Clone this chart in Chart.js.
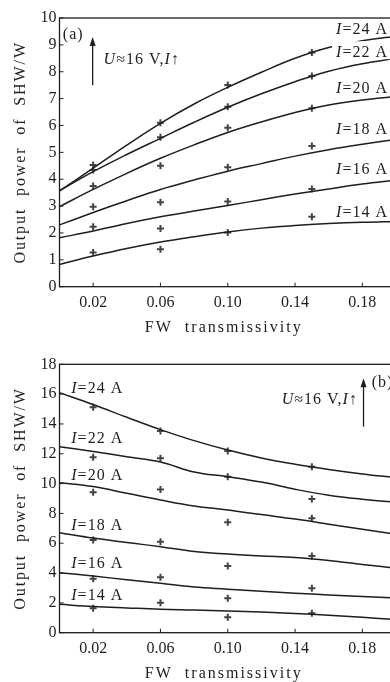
<!DOCTYPE html>
<html lang="en">
<head>
<meta charset="UTF-8">
<title>SHW output power vs FW transmissivity</title>
<script src="https://cdn.jsdelivr.net/npm/chart.js"></script>
<style>
  body { margin: 0; background: #fff; }
  #wrap { width: 390px; height: 682px; overflow: hidden; }
  canvas { display: block; }
</style>
</head>
<body>
<div id="wrap">
  <canvas id="chartA" width="402" height="341"></canvas>
  <canvas id="chartB" width="402" height="341"></canvas>
</div>
<script>
// values
const currents = [24, 22, 20, 18, 16, 14];
const xFit = [0, 0.02, 0.04, 0.06, 0.08, 0.10, 0.12, 0.14, 0.16, 0.18, 0.20];
const xMeas = [0.02, 0.06, 0.10, 0.15];
const xTicks = [0.02, 0.06, 0.10, 0.14, 0.18];
const yTicksA = [0, 1, 2, 3, 4, 5, 6, 7, 8, 9, 10];
const yTicksB = [0, 2, 4, 6, 8, 10, 12, 14, 16, 18];

// (a) fitted curves, one per current
const fitA24 = [3.57, 4.41, 5.27, 6.08, 6.80, 7.42, 7.98, 8.50, 8.90, 9.15, 9.32];
const fitA22 = [3.57, 4.28, 4.92, 5.52, 6.12, 6.68, 7.18, 7.63, 8.02, 8.30, 8.50];
const fitA20 = [2.98, 3.62, 4.22, 4.78, 5.28, 5.74, 6.13, 6.48, 6.76, 6.95, 7.08];
const fitA18 = [2.30, 2.76, 3.20, 3.62, 3.97, 4.30, 4.58, 4.86, 5.10, 5.30, 5.48];
const fitA16 = [1.82, 2.07, 2.35, 2.60, 2.82, 3.02, 3.24, 3.45, 3.64, 3.82, 3.97];
const fitA14 = [0.83, 1.14, 1.42, 1.66, 1.86, 2.04, 2.18, 2.28, 2.35, 2.40, 2.43];
// (a) measured points
const measA24 = [4.53, 6.10, 7.51, 8.72];
const measA22 = [4.34, 5.56, 6.70, 7.84];
const measA20 = [3.75, 4.50, 5.92, 6.64];
const measA18 = [2.98, 3.14, 4.45, 5.24];
const measA16 = [2.23, 2.17, 3.17, 3.64];
const measA14 = [1.27, 1.39, 2.02, 2.60];

// (b) fitted curves
const fitB24 = [16.10, 15.30, 14.45, 13.62, 12.88, 12.25, 11.72, 11.30, 10.95, 10.65, 10.40];
const fitB22 = [12.47, 12.15, 11.80, 11.45, 10.78, 10.46, 10.10, 9.62, 9.22, 8.95, 8.75];
const fitB20 = [10.06, 9.80, 9.35, 8.90, 8.50, 8.23, 7.92, 7.62, 7.28, 6.93, 6.60];
const fitB18 = [6.71, 6.35, 6.05, 5.77, 5.45, 5.28, 5.15, 5.05, 4.85, 4.58, 4.32];
const fitB16 = [4.02, 3.80, 3.55, 3.31, 3.06, 2.92, 2.78, 2.65, 2.53, 2.43, 2.33];
const fitB14 = [1.90, 1.76, 1.66, 1.57, 1.52, 1.46, 1.38, 1.29, 1.17, 1.03, 0.88];
// (b) measured points
const measB24 = [15.12, 13.53, 12.19, 11.13];
const measB22 = [11.76, 11.70, 10.46, 8.97];
const measB20 = [9.42, 9.60, 7.40, 7.67];
const measB18 = [6.22, 6.10, 4.47, 5.14];
const measB16 = [3.62, 3.72, 2.31, 2.98];
const measB14 = [1.64, 2.01, 1.03, 1.30];

const SERIF = '"Liberation Serif", "Times New Roman", serif';
const INK = '#1e1e1e';

function drawRich(ctx, parts, x, y, size, align) {
    let total = 0;
    parts.forEach(p => {
        ctx.font = (p[1] ? 'italic ' : '') + size + 'px ' + SERIF;
        total += ctx.measureText(p[0]).width;
    });
    if (align === 'right') x -= total;
    parts.forEach(p => {
        ctx.font = (p[1] ? 'italic ' : '') + size + 'px ' + SERIF;
        ctx.fillText(p[0], x, y);
        x += ctx.measureText(p[0]).width;
    });
}

const decor = {
    id: 'decor',
    afterDatasetsDraw(chart, args, o) {
        const ctx = chart.ctx, xs = chart.scales.x, ys = chart.scales.y;
        ctx.save();
        ctx.fillStyle = INK;
        ctx.textBaseline = 'middle';
        ctx.letterSpacing = '1px';
        // current labels
        o.labels.forEach((lb, i) => {
            const px = xs.getPixelForValue(lb[0]), py = ys.getPixelForValue(lb[1]);
            const parts = [['I', true], ['=' + currents[i] + ' A', false]];
            if (o.mask) {
                ctx.fillStyle = '#fff';
                ctx.fillRect(px - 4, py - 12, 60, 18);
                ctx.fillStyle = INK;
            }
            drawRich(ctx, parts, px, py, 16, 'left');
        });
        // panel tag
        drawRich(ctx, [[o.tag[0], false]], xs.getPixelForValue(o.tag[1]), ys.getPixelForValue(o.tag[2]), 16, 'left');
        // note
        drawRich(ctx, [['U', true], ['\u224816 V,', false], ['I', true], ['\u2191', false]],
            xs.getPixelForValue(o.note[0]), ys.getPixelForValue(o.note[1]), 16, o.note[2]);
        // arrow
        const ax = xs.getPixelForValue(o.arrow[0]);
        const a0 = ys.getPixelForValue(o.arrow[1]), a1 = ys.getPixelForValue(o.arrow[2]);
        ctx.strokeStyle = INK;
        ctx.lineWidth = 1.3;
        ctx.beginPath();
        ctx.moveTo(ax, a0);
        ctx.lineTo(ax, a1 + 4);
        ctx.stroke();
        ctx.beginPath();
        ctx.moveTo(ax, a1);
        ctx.lineTo(ax - 3, a1 + 9);
        ctx.lineTo(ax + 3, a1 + 9);
        ctx.closePath();
        ctx.fill();
        ctx.restore();
    },
    afterDraw(chart) {
        const ctx = chart.ctx, a = chart.chartArea;
        const xs = chart.scales.x, ys = chart.scales.y;
        ctx.save();
        ctx.strokeStyle = INK;
        ctx.lineWidth = 1.3;
        ctx.strokeRect(a.left, a.top, a.right - a.left, a.bottom - a.top);
        // inward ticks
        ctx.lineWidth = 1;
        ctx.beginPath();
        xTicks.forEach(v => {
            const px = xs.getPixelForValue(v);
            ctx.moveTo(px, a.bottom);
            ctx.lineTo(px, a.bottom - 4);
        });
        ys.ticks.forEach(t => {
            const py = ys.getPixelForValue(t.value);
            ctx.moveTo(a.left, py);
            ctx.lineTo(a.left + 4, py);
        });
        ctx.stroke();
        // axis titles
        ctx.fillStyle = INK;
        ctx.font = '16px ' + SERIF;
        ctx.textAlign = 'center';
        ctx.textBaseline = 'middle';
        ctx.letterSpacing = '2px';
        ctx.fillText('FW  transmissivity', (a.left + a.right) / 2 - 4, a.bottom + 41);
        ctx.translate(21, (a.top + a.bottom) / 2);
        ctx.rotate(-Math.PI / 2);
        ctx.letterSpacing = '1.9px';
        ctx.fillText('Output  power  of  SHW/W', 0, 0);
        ctx.restore();
    }
};

function buildChart(id, fits, meas, yTicks, top, xHeight, deco) {
    const datasets = [];
    fits.forEach((f, i) => {
        datasets.push({
            data: xFit.map((x, j) => ({ x: x, y: f[j] })),
            showLine: true,
            borderColor: INK,
            borderWidth: 1.5,
            pointRadius: 0,
            tension: 0.4
        });
        datasets.push({
            data: xMeas.map((x, j) => ({ x: x, y: meas[i][j] })),
            showLine: false,
            pointStyle: 'cross',
            pointRadius: 3.5,
            borderWidth: 2,
            borderColor: '#444',
            backgroundColor: '#444'
        });
    });
    const tickFont = { family: SERIF, size: 16 };
    return new Chart(document.getElementById(id), {
        type: 'scatter',
        data: { datasets: datasets },
        options: {
            responsive: false,
            animation: false,
            layout: { padding: { top: top, right: 2.5, left: 0, bottom: 0 } },
            plugins: { legend: { display: false }, tooltip: { enabled: false }, decor: deco },
            scales: {
                x: {
                    type: 'linear', min: 0, max: 0.2,
                    afterBuildTicks: s => { s.ticks = xTicks.map(v => ({ value: v })); },
                    afterFit: s => { s.height = xHeight; },
                    ticks: { callback: v => v.toFixed(2), font: tickFont, color: INK, padding: 6, autoSkip: false, maxRotation: 0 },
                    grid: { display: false, drawTicks: false },
                    border: { display: false }
                },
                y: {
                    type: 'linear', min: yTicks[0], max: yTicks[yTicks.length - 1],
                    afterBuildTicks: s => { s.ticks = yTicks.map(v => ({ value: v })); },
                    afterFit: s => { s.width = 59.5; },
                    ticks: { font: tickFont, color: INK, padding: 3 },
                    grid: { display: false, drawTicks: false },
                    border: { display: false }
                }
            }
        },
        plugins: [decor]
    });
}

buildChart('chartA',
    [fitA24, fitA22, fitA20, fitA18, fitA16, fitA14],
    [measA24, measA22, measA20, measA18, measA16, measA14],
    yTicksA, 18, 54.3, {
        labels: [[0.1644, 9.55], [0.1644, 8.69], [0.1644, 7.38], [0.1644, 5.83], [0.1644, 4.34], [0.1644, 2.75]],
        mask: true,
        tag: ['(a)', 0.002, 9.37],
        note: [0.0262, 8.44, 'left'],
        arrow: [0.0197, 7.5, 9.29]
    });

buildChart('chartB',
    [fitB24, fitB22, fitB20, fitB18, fitB16, fitB14],
    [measB24, measB22, measB20, measB18, measB16, measB14],
    yTicksB, 23.3, 49.3, {
        labels: [[0.007, 16.39], [0.007, 12.99], [0.007, 10.53], [0.007, 7.18], [0.007, 4.61], [0.007, 2.46]],
        mask: false,
        tag: ['(b)', 0.1856, 16.75],
        note: [0.1773, 15.6, 'right'],
        arrow: [0.1807, 13.82, 17.06]
    });
</script>
</body>
</html>
